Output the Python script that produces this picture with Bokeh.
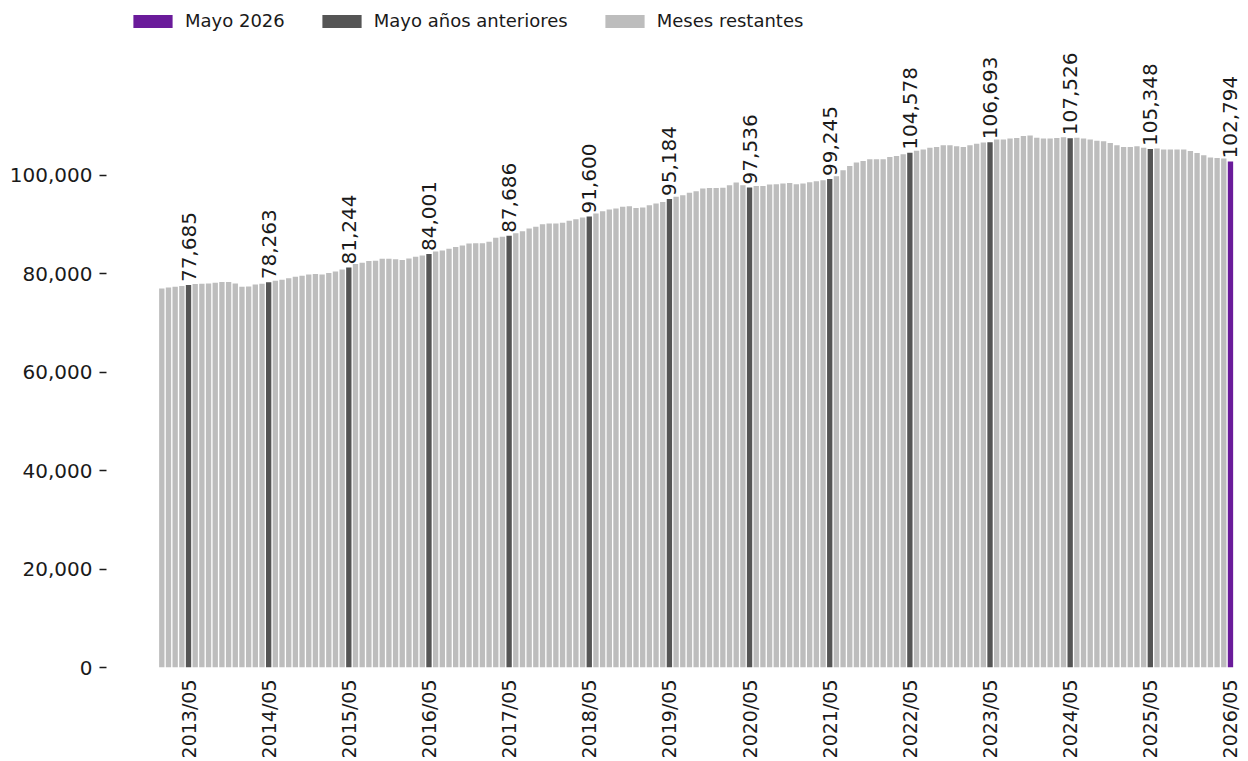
import math
from bokeh.plotting import figure
from bokeh.models import (ColumnDataSource, FixedTicker, NumeralTickFormatter,
                          Range1d, Legend, LegendItem)
from bokeh.embed import file_html
from bokeh.resources import INLINE
from bokeh.core.properties import value

# ---------------- data ----------------
start_year = 2013
start_month = 1
highlight_month = 5  # May

values = [
    # 2013
    77000, 77200, 77350, 77480, 77685, 77890, 77960, 78020, 78160, 78290, 78290, 78020,
    # 2014
    77350, 77420, 77820, 77960, 78263, 78560, 78770, 79100, 79380, 79580, 79850, 79920,
    # 2015
    79850, 80120, 80460, 80860, 81244, 81950, 82220, 82560, 82620, 83030, 83030, 82960,
    # 2016
    82760, 83100, 83430, 83710, 84001, 84520, 84720, 85060, 85400, 85730, 86140, 86210,
    # 2017
    86210, 86480, 87290, 87490, 87686, 88240, 88640, 89180, 89550, 90060, 90200, 90200,
    # 2018
    90330, 90740, 91080, 91410, 91600, 92220, 92700, 93040, 93240, 93580, 93710, 93370,
    # 2019
    93440, 93920, 94250, 94590, 95184, 95610, 95940, 96420, 96760, 97300, 97430, 97430,
    # 2020
    97450, 97970, 98510, 97970, 97536, 97840, 97840, 98110, 98170, 98310, 98450, 98170,
    # 2021
    98310, 98580, 98780, 98990, 99245, 99800, 101010, 101890, 102570, 102910, 103250, 103250,
    # 2022
    103250, 103720, 103920, 104260, 104578, 105000, 105210, 105610, 105750, 106090, 106090, 105880,
    # 2023
    105750, 106090, 106420, 106630, 106693, 107240, 107240, 107440, 107570, 107980, 108050, 107640,
    # 2024
    107440, 107440, 107570, 107710, 107526, 107640, 107440, 107240, 107000, 106900, 106560, 106090,
    # 2025
    105750, 105750, 105880, 105610, 105348, 105410, 105210, 105210, 105210, 105210, 104940, 104530,
    # 2026
    104060, 103580, 103520, 103380, 102794,
]

legend_labels = ["Mayo 2026", "Mayo años anteriores", "Meses restantes"]
colors = ["#6a1b9a", "#555555", "#bdbdbd"]
y_ticks = [0, 20000, 40000, 60000, 80000, 100000]

# ---------------- derived ----------------
n = len(values)
idx = list(range(n))
month_of = [(start_month - 1 + i) % 12 + 1 for i in idx]
year_of = [start_year + (start_month - 1 + i) // 12 for i in idx]
labels = [f"{y}/{m:02d}" for y, m in zip(year_of, month_of)]

last = n - 1
cur_idx = [i for i in idx if i == last]
may_idx = [i for i in idx if month_of[i] == highlight_month and i != last]
rest_idx = [i for i in idx if month_of[i] != highlight_month and i != last]
lab_idx = [i for i in idx if month_of[i] == highlight_month]

def src(ids):
    return ColumnDataSource(dict(x=ids, top=[values[i] for i in ids]))

# ---------------- figure ----------------
p = figure(width=1246, height=761, output_backend="svg", toolbar_location=None,
           x_range=Range1d(-8.28, 162.4), y_range=Range1d(0, 133874),
           min_border_left=106, min_border_right=0, min_border_top=8,
           min_border_bottom=93)
p.outline_line_color = None
p.xgrid.visible = False
p.ygrid.visible = False
p.background_fill_color = "white"

bw = 0.8
r_rest = p.vbar(x="x", top="top", width=bw, bottom=0, source=src(rest_idx),
                fill_color=colors[2], line_color=None)
r_may = p.vbar(x="x", top="top", width=bw, bottom=0, source=src(may_idx),
               fill_color=colors[1], line_color=None)
r_cur = p.vbar(x="x", top="top", width=bw, bottom=0, source=src(cur_idx),
               fill_color=colors[0], line_color=None)

lab_src = ColumnDataSource(dict(
    x=lab_idx, y=[values[i] for i in lab_idx],
    t=[f"{values[i]:,}" for i in lab_idx]))
p.text(x="x", y="y", text="t", source=lab_src, angle=math.pi / 2,
       text_align="left", text_baseline="middle", y_offset=-3,
       text_font=value("DejaVu Sans"), text_font_size="20px",
       text_color="#1a1a1a")

# axes
xa = p.xaxis[0]
xa.ticker = FixedTicker(ticks=lab_idx)
xa.major_label_overrides = {i: labels[i] for i in lab_idx}
xa.major_label_orientation = math.pi / 2
xa.axis_line_color = None
xa.major_tick_line_color = None
xa.minor_tick_line_color = None
xa.major_tick_out = 0
xa.major_tick_in = 0
xa.major_label_standoff = 12
xa.major_label_text_font = "DejaVu Sans"
xa.major_label_text_font_size = "19px"
xa.major_label_text_color = "#1a1a1a"

ya = p.yaxis[0]
ya.ticker = FixedTicker(ticks=y_ticks)
ya.formatter = NumeralTickFormatter(format="0,0")
ya.axis_line_color = None
ya.major_tick_line_color = "#1a1a1a"
ya.major_tick_line_width = 1.3
ya.minor_tick_line_color = None
ya.major_tick_out = 7
ya.major_tick_in = 0
ya.major_label_standoff = 7
ya.major_label_text_font = "DejaVu Sans"
ya.major_label_text_font_size = "20px"
ya.major_label_text_color = "#1a1a1a"

legend = Legend(items=[LegendItem(label=legend_labels[0], renderers=[r_cur]),
                       LegendItem(label=legend_labels[1], renderers=[r_may]),
                       LegendItem(label=legend_labels[2], renderers=[r_rest])],
                orientation="horizontal", location=(22, 636),
                background_fill_alpha=0, border_line_color=None,
                padding=0, margin=0, spacing=32, label_standoff=8,
                glyph_width=49, glyph_height=16,
                label_text_font="DejaVu Sans", label_text_font_size="18px",
                label_text_color="#1a1a1a")
p.add_layout(legend)

open("out.html", "w").write(file_html(p, INLINE))
